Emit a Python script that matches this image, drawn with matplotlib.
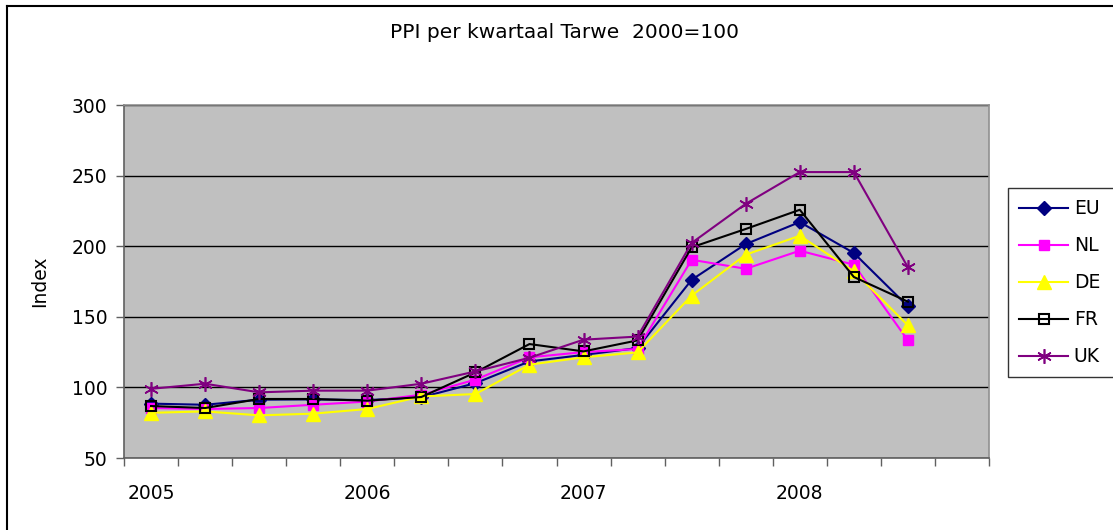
import matplotlib
matplotlib.use('Agg')
import matplotlib.pyplot as plt
from matplotlib.lines import Line2D
import numpy as np

plt.rcParams['font.family'] = ['DejaVu Sans']

# kwartalen 2005K1 .. 2008K3 (16e categorie blijft leeg)
quarters = ['2005K1', '2005K2', '2005K3', '2005K4',
            '2006K1', '2006K2', '2006K3', '2006K4',
            '2007K1', '2007K2', '2007K3', '2007K4',
            '2008K1', '2008K2', '2008K3']
year_labels = ['2005', '2006', '2007', '2008']

eu = [88.5, 87.7, 91.3, 91.5, 91.0, 93.0, 103.0, 118.4, 123.0, 127.9, 176.2, 201.5, 217.1, 195.2, 157.4]
nl = [85.4, 84.7, 85.4, 87.7, 90.0, 94.8, 105.5, 121.3, 125.0, 127.2, 190.4, 184.0, 196.8, 186.9, 133.3]
de = [82.0, 83.0, 80.2, 81.4, 84.7, 93.6, 95.3, 116.1, 121.3, 124.8, 165.0, 194.0, 207.4, 182.2, 143.9]
fr = [86.8, 85.4, 91.8, 91.8, 90.6, 93.2, 110.6, 130.7, 125.5, 133.3, 199.2, 212.2, 225.8, 178.2, 160.7]
uk = [99.0, 102.6, 96.5, 97.7, 97.7, 102.6, 111.3, 121.0, 133.8, 136.0, 202.3, 230.0, 252.5, 252.5, 185.0]

FS = 13.5
W, H = 1113, 530
fig = plt.figure(figsize=(W / 100, H / 100), dpi=100)
ax = fig.add_axes([124 / W, (H - 458) / H, (989 - 124) / W, (458 - 105) / H])
ax.set_facecolor('#c0c0c0')

x = np.arange(len(quarters)) + 0.5
ax.plot(x, eu, color='#000080', lw=1.5, marker='D', ms=7.5, label='EU')
ax.plot(x, nl, color='#ff00ff', lw=1.5, marker='s', ms=7.5, label='NL')
ax.plot(x, de, color='#ffff00', lw=1.5, marker='^', ms=10, label='DE')
ax.plot(x, fr, color='black', lw=1.5, marker='s', ms=7.5, mfc='none', mew=1.5, label='FR')
ax.plot(x, uk, color='#800080', lw=1.5, marker=(6, 2, 0), ms=10.5, mew=1.2, label='UK')

ax.set_xlim(0, 16)
ax.set_ylim(50, 300)
ax.set_yticks([50, 100, 150, 200, 250, 300])
ax.yaxis.grid(True, color='black', lw=1)
ax.set_axisbelow(True)

ax.set_xticks(np.arange(0, 17))
ax.set_xticklabels([])
ax.set_xticks([0.5, 4.5, 8.5, 12.5], minor=True)
ax.set_xticklabels(year_labels, minor=True)
ax.tick_params(axis='x', which='major', length=6, width=1, color='#606060', direction='out')
ax.tick_params(axis='x', which='minor', length=0, pad=19, labelsize=FS)
ax.tick_params(axis='y', length=6, width=1, color='#606060', pad=6, labelsize=FS)

for s in ['left', 'bottom']:
    ax.spines[s].set_color('#606060')
    ax.spines[s].set_linewidth(1.2)
for s in ['top', 'right']:
    ax.spines[s].set_color('#909090')
    ax.spines[s].set_linewidth(1.2)

ax.set_ylabel('Index', fontsize=FS, labelpad=16)
fig.text(565 / W, 1 - 33 / H, 'PPI per kwartaal Tarwe  2000=100', ha='center', va='center', fontsize=14.5)

leg = fig.legend(loc='upper left', bbox_to_anchor=(1008 / W, 0, 112 / W, 1 - 188 / H), mode='expand',
                 fontsize=FS, frameon=True, fancybox=False, edgecolor='black', handlelength=2.6,
                 handletextpad=0.3, labelspacing=0.96, borderpad=0.6, borderaxespad=0)
leg.get_frame().set_linewidth(1)

# buitenrand van de grafiek (alleen links en boven zichtbaar)
fig.add_artist(Line2D([7 / W, 7 / W], [0, 1 - 6 / H], color='black', lw=1.5))
fig.add_artist(Line2D([7 / W, 1], [1 - 6 / H, 1 - 6 / H], color='black', lw=1.5))

fig.savefig('out.png', dpi=100)
